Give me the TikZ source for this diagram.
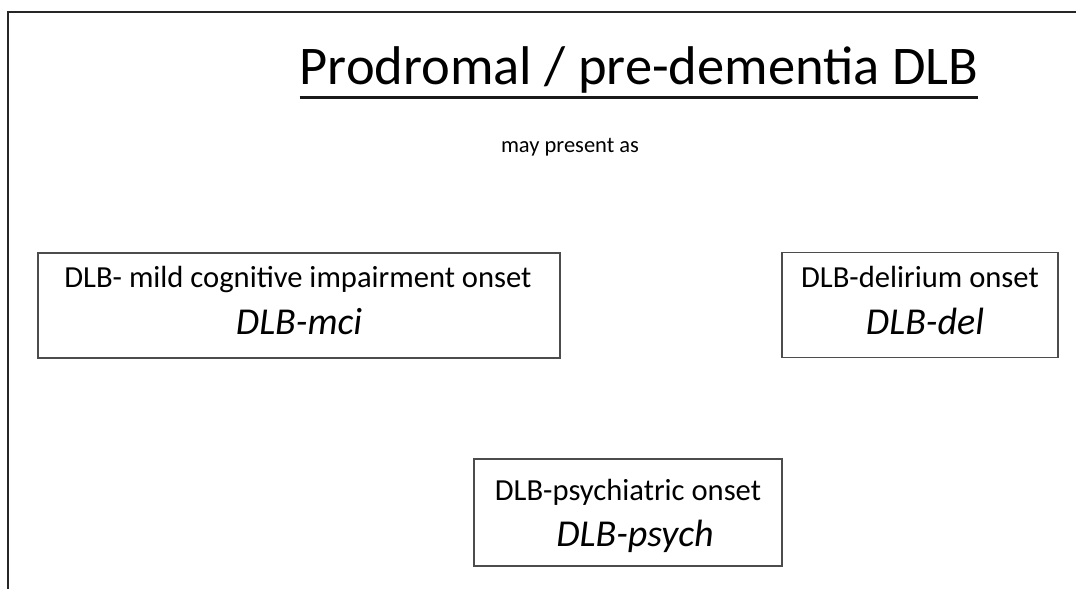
\documentclass[tikz,border=0pt]{standalone}
\usepackage{fontspec}
\setmainfont{Carlito}
\usepackage{tikz}
\usetikzlibrary{positioning, calc}
\tikzstyle{onsetbox} = [
  rectangle, draw=black!70, line width=1.3pt, inner sep=0pt,
  minimum height=105pt
]
\tikzstyle{onsetlong} = [anchor=base, inner sep=0pt, font=\fontsize{30.6}{36}\selectfont]
\tikzstyle{onsetshort} = [anchor=base, inner sep=0pt, font=\fontsize{38}{46}\selectfont\itshape]

\begin{document}
\begin{tikzpicture}[x=1pt, y=-1pt]
  \useasboundingbox (0,0) rectangle (1076,589);

  % Frame
  \draw[line width=2pt, black!85] (1076,12) -- (8,12) -- (8,589);

  % Heading
  \node[anchor=base, inner sep=0pt, font=\fontsize{54.5}{64}\selectfont] (title) at (639,84) {Prodromal / pre-dementia DLB};
  \draw[line width=3pt, black!90] ([yshift=-13pt]title.base west) -- ([yshift=-13pt]title.base east);
  \node[anchor=base, inner sep=0pt, font=\fontsize{22.5}{27}\selectfont] (may) at (570,152) {may present as};

  % Boxes
  \node[onsetbox, minimum width=522pt] (mci) at (299,305.5) {};
  \node[onsetbox, minimum width=276pt] (del) at (920,305) {};
  \node[onsetbox, minimum width=308pt, minimum height=107pt] (psych) at (628,512.5) {};

  % Box texts
  \node[onsetlong] (mcilong) at (298,287) {DLB- mild cognitive impairment onset};
  \node[onsetshort] (mcishort) at (299,334) {DLB-mci};
  \node[onsetlong] (dellong) at (920,287) {DLB-delirium onset};
  \node[onsetshort] (delshort) at (925,334) {DLB-del};
  \node[onsetlong] (psychlong) at (628,500) {DLB-psychiatric onset};
  \node[onsetshort] (psychshort) at (635,546) {DLB-psych};

\end{tikzpicture}
\end{document}
